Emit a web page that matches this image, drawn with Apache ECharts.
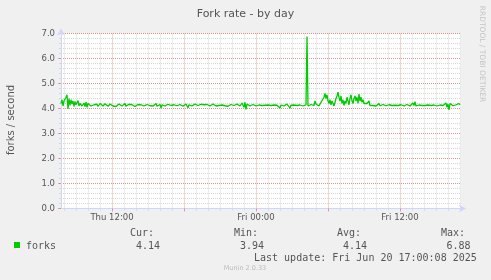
<!DOCTYPE html>
<html>
<head>
<meta charset="utf-8">
<script src="https://cdn.jsdelivr.net/npm/echarts@6/dist/echarts.min.js"></script>
<style>
html,body{margin:0;padding:0;background:#F0F0F0;}
#chart{width:491px;height:280px;}
</style>
</head>
<body>
<div id="chart"></div>
<script>
// ---- data (5-minute samples, Thu 07:45 .. Fri 17:00) ----
const startMinute = 7 * 60 + 45;   // Thu 07:45
const stepMinutes = 5;
const forks = [
  4.20, 4.35, 4.10, 4.30, 4.22, 4.45, 4.55, 3.98, 4.40, 4.12,
  4.35, 4.18, 4.30, 4.08, 4.28, 4.15, 4.22, 4.32, 4.10, 4.20,
  4.26, 4.10, 4.16, 4.22, 4.08, 4.25, 4.05, 4.20, 4.15, 4.27,
  4.10, 4.18, 4.03, 4.15, 4.22, 4.12, 4.17, 4.08, 4.15, 4.20,
  4.12, 4.16, 4.10, 4.14, 4.19, 4.11, 4.15, 4.09, 4.13, 4.18,
  4.12, 4.15, 4.10, 4.17, 4.13, 4.08, 4.15, 4.12, 4.18, 4.11,
  4.14, 4.10, 4.16, 4.12, 4.20, 4.09, 4.14, 4.11, 4.17, 4.13,
  4.10, 4.15, 4.12, 4.18, 4.08, 4.14, 4.11, 4.16, 4.13, 4.10,
  4.15, 4.12, 4.19, 4.10, 4.14, 4.08, 4.16, 4.12, 4.15, 4.11,
  4.17, 4.13, 4.10, 4.15, 4.12, 4.20, 4.09, 4.14, 4.11, 4.16,
  4.02, 4.15, 4.12, 4.18, 4.10, 4.14, 4.12, 4.17, 4.09, 4.14,
  4.12, 4.16, 4.10, 4.15, 4.13, 4.19, 4.11, 4.14, 4.10, 4.16,
  4.12, 4.15, 4.09, 4.14, 4.11, 4.18, 4.13, 4.03, 4.15, 4.12,
  4.16, 4.10, 4.14, 4.12, 4.18, 4.10, 4.15, 4.12, 4.14, 4.11,
  4.17, 4.12, 4.10, 4.15, 4.13, 4.09, 4.16, 4.12, 4.14, 4.10,
  4.15, 4.12, 4.18, 4.11, 4.14, 4.10, 4.16, 4.13, 4.12, 4.15,
  4.10, 4.14, 4.12, 4.17, 4.11, 4.15, 4.12, 4.09, 4.14, 4.12,
  4.16, 4.11, 4.15, 4.12, 4.10, 4.14, 4.18, 4.12, 4.15, 4.10,
  4.13, 4.22, 4.16, 4.05, 4.25, 3.96, 4.18, 4.12, 4.24, 4.10,
  4.14, 4.12, 4.16, 4.11, 4.14, 4.10, 4.15, 4.12, 4.14, 4.11,
  4.16, 4.12, 4.10, 4.15, 4.13, 4.18, 4.11, 4.14, 4.10, 4.16,
  4.12, 4.15, 4.09, 4.14, 4.11, 4.17, 4.13, 4.10, 4.15, 4.02,
  4.14, 4.12, 4.16, 4.10, 4.14, 4.12, 4.18, 4.11, 4.15, 4.01,
  4.13, 4.16, 4.11, 4.14, 4.10, 4.15, 4.12, 4.17, 4.11, 4.14,
  4.12, 4.16, 4.10, 4.14, 4.12, 4.15, 6.88, 4.10, 4.18, 4.12,
  4.16, 4.14, 4.20, 4.12, 4.30, 4.18, 4.14, 4.20, 4.10, 4.18,
  4.25, 4.20, 4.30, 4.45, 4.60, 4.40, 4.55, 4.30, 4.20, 4.35,
  4.15, 4.30, 4.20, 4.10, 4.25, 4.40, 4.50, 4.65, 4.45, 4.30,
  4.50, 4.20, 4.35, 4.12, 4.30, 4.20, 4.45, 4.30, 4.15, 4.40,
  4.55, 4.30, 4.20, 4.40, 4.50, 4.30, 4.45, 4.20, 4.58, 4.30,
  4.45, 4.25, 4.35, 4.20, 4.25, 4.12, 4.20, 4.15, 4.30, 4.12,
  4.15, 4.20, 4.12, 4.18, 4.15, 4.10, 4.17, 4.13, 4.20, 4.11,
  4.14, 4.10, 4.16, 4.12, 4.18, 4.11, 4.14, 4.10, 4.15, 4.12,
  4.17, 4.12, 4.10, 4.15, 4.13, 4.09, 4.16, 4.12, 4.14, 4.11,
  4.15, 4.12, 4.18, 4.10, 4.14, 4.12, 4.16, 4.11, 4.14, 4.10,
  4.15, 4.13, 4.22, 4.12, 4.27, 4.10, 4.16, 4.12, 4.14, 4.11,
  4.16, 4.12, 4.10, 4.15, 4.12, 4.18, 4.11, 4.14, 4.10, 4.15,
  4.12, 4.16, 4.11, 4.14, 4.12, 4.17, 4.10, 4.15, 4.12, 4.14,
  4.11, 4.16, 4.12, 4.10, 4.15, 4.22, 4.05, 4.18, 3.94, 4.20,
  4.12, 4.16, 4.11, 4.14, 4.10, 4.15, 4.18, 4.12, 4.20, 4.14
];
const tickLabels = ['Thu 12:00', 'Fri 00:00', 'Fri 12:00'];
const yTickLabels = ['0.0', '1.0', '2.0', '3.0', '4.0', '5.0', '6.0', '7.0'];
const legendHeaders = ['Cur:', 'Min:', 'Avg:', 'Max:'];
const legendValues = ['4.14', '3.94', '4.14', '6.88'];
const seriesName = 'forks';
const titleText = 'Fork rate - by day';
const yAxisTitle = 'forks / second';
const lastUpdate = 'Last update: Fri Jun 20 17:00:08 2025';
const footer = 'Munin 2.0.33';
const watermark = 'RRDTOOL / TOBI OETIKER';

// categories: one per 5 minutes, one extra slot at the right edge
const nCategories = forks.length + 1;
const categories = [];
for (let i = 0; i < nCategories; i++) {
  const t = startMinute + i * stepMinutes;
  const day = t >= 1440 ? 'Fri' : 'Thu';
  const m = t % 1440;
  const hh = String(Math.floor(m / 60)).padStart(2, '0');
  const mm = String(m % 60).padStart(2, '0');
  categories.push(day + ' ' + hh + ':' + mm);
}
const minuteOf = i => startMinute + i * stepMinutes;

const AXIS = '#CFD6F8';
const GRID = 'rgba(143,143,143,0.35)';
const MGRID = 'rgba(222,79,79,0.5)';
const FONT = '#555555';
const MONO = '"DejaVu Sans Mono", monospace';
const SANS = '"DejaVu Sans", sans-serif';

const chart = echarts.init(document.getElementById('chart'), null, {renderer: 'canvas'});

const graphics = [
  {type: 'text', style: {text: titleText, x: 245.5, y: 14, font: '11px ' + SANS, fill: FONT, textAlign: 'center', textVerticalAlign: 'middle'}},
  {type: 'text', rotation: Math.PI / 2, x: 11, y: 120, style: {text: yAxisTitle, x: 0, y: 0, font: '10px ' + SANS, fill: FONT, textAlign: 'center', textVerticalAlign: 'middle'}},
  {type: 'text', rotation: -Math.PI / 2, x: 481.5, y: 54, style: {text: watermark, x: 0, y: 0, font: '7.5px ' + SANS, fill: '#C4C4C4', textAlign: 'center', textVerticalAlign: 'middle'}},
  {type: 'rect', shape: {x: 14, y: 242, width: 6, height: 6}, style: {fill: '#00CC00'}},
  {type: 'text', style: {text: seriesName, x: 26, y: 246, font: '10px ' + MONO, fill: FONT, textAlign: 'left', textVerticalAlign: 'middle'}},
  {type: 'text', style: {text: lastUpdate, x: 254, y: 258, font: '10px ' + MONO, fill: FONT, textAlign: 'left', textVerticalAlign: 'middle'}},
  {type: 'text', style: {text: footer, x: 245, y: 268.5, font: '6.5px ' + SANS, fill: '#BBBBBB', textAlign: 'center', textVerticalAlign: 'middle'}}
];
const headerX = [130, 234, 337, 441];
const valueX = [136, 240, 343, 446.5];
legendHeaders.forEach((h, k) => {
  graphics.push({type: 'text', style: {text: h, x: headerX[k], y: 233.5, font: '10px ' + MONO, fill: FONT, textAlign: 'left', textVerticalAlign: 'middle'}});
  graphics.push({type: 'text', style: {text: legendValues[k], x: valueX[k], y: 246, font: '10px ' + MONO, fill: FONT, textAlign: 'left', textVerticalAlign: 'middle'}});
});

chart.setOption({
  animation: false,
  backgroundColor: '#F0F0F0',
  grid: {left: 61, top: 33.5, width: 400, height: 175, show: true, backgroundColor: '#FFFFFF', borderWidth: 0, containLabel: false},
  xAxis: [
    {
      type: 'category', data: categories, boundaryGap: false, position: 'bottom',
      axisLine: {show: true, lineStyle: {color: AXIS, width: 1}, symbol: ['none', 'arrow'], symbolSize: [6, 7], symbolOffset: [0, 5]},
      axisTick: {show: true, length: 2, lineStyle: {color: AXIS}, interval: (i) => minuteOf(i) % 60 === 0},
      axisLabel: {show: false},
      splitLine: {show: true, interval: (i) => minuteOf(i) % 60 === 0 && minuteOf(i) % 360 !== 0, lineStyle: {color: GRID, width: 1, type: [1, 1]}}
    },
    {
      type: 'category', data: categories, boundaryGap: false, position: 'bottom',
      axisLine: {show: false},
      axisTick: {show: true, length: 3, lineStyle: {color: MGRID}, interval: (i) => minuteOf(i) % 360 === 0},
      axisLabel: {
        show: true, margin: 5, color: FONT, fontFamily: SANS, fontSize: 8.5,
        interval: (i, v) => tickLabels.indexOf(v) >= 0,
        formatter: (v) => v
      },
      splitLine: {show: true, interval: (i) => minuteOf(i) % 360 === 0, lineStyle: {color: MGRID, width: 1, type: [1, 1]}}
    }
  ],
  yAxis: [
    {
      type: 'value', min: 0, max: 7, interval: 0.2, position: 'left',
      axisLine: {show: true, lineStyle: {color: AXIS, width: 1}, symbol: ['none', 'arrow'], symbolSize: [6, 7], symbolOffset: [0, 5]},
      axisTick: {show: true, length: 2, lineStyle: {color: AXIS}},
      axisLabel: {show: false},
      splitLine: {show: true, lineStyle: {color: GRID, width: 1, type: [1, 1]}}
    },
    {
      type: 'value', min: 0, max: 7, interval: 1, position: 'left',
      axisLine: {show: false},
      axisTick: {show: true, length: 3, lineStyle: {color: MGRID}},
      axisLabel: {show: true, margin: 6, color: FONT, fontFamily: SANS, fontSize: 8.5, formatter: (v) => yTickLabels[Math.round(v)]},
      splitLine: {show: true, lineStyle: {color: MGRID, width: 1, type: [1, 1]}}
    }
  ],
  series: [{
    name: seriesName, type: 'line', data: forks, xAxisIndex: 0, yAxisIndex: 0,
    showSymbol: false, symbol: 'none', smooth: false,
    lineStyle: {color: '#00CC00', width: 1.3}, z: 5
  }],
  graphic: graphics
});
</script>
</body>
</html>
